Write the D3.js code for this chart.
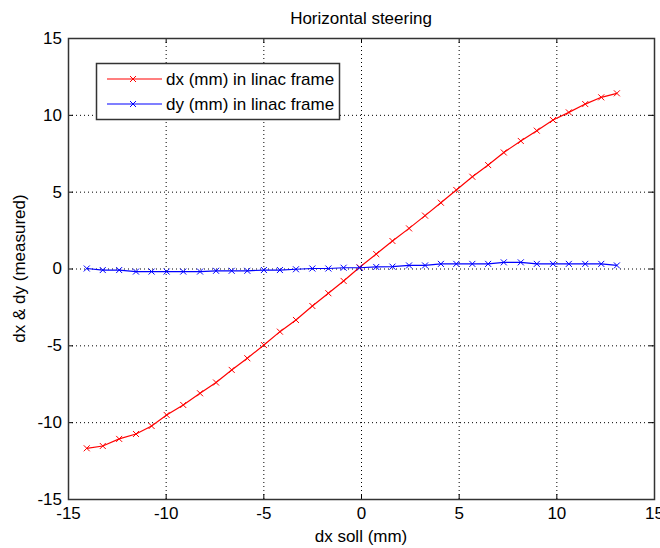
<!DOCTYPE html>
<meta charset="utf-8">
<style>
body { margin: 0; background: #fff; }
text { font-family: "Liberation Sans", Arial, sans-serif; fill: #000; }
.grid line { stroke: #000; stroke-width: 1; stroke-dasharray: 1,3; }
.line { fill: none; stroke-width: 1.2px; }
</style>
<body>
<script src="https://cdn.jsdelivr.net/npm/d3@7"></script>
<script>

// measurement positions (dx soll, mm)
var dxSoll = [-14.04, -13.22, -12.38, -11.52, -10.72, -9.95, -9.1, -8.24, -7.42, -6.62,
  -5.82, -4.97, -4.15, -3.33, -2.49, -1.67, -0.89, -0.07, 0.78, 1.61,
  2.46, 3.28, 4.09, 4.88, 5.7, 6.51, 7.31, 8.18, 9.0, 9.83,
  10.64, 11.48, 12.3, 13.1];

var dxMeas = [-11.70, -11.55, -11.09, -10.77, -10.25, -9.53, -8.88, -8.12, -7.42, -6.60,
  -5.84, -4.98, -4.11, -3.35, -2.44, -1.61, -0.81, 0.08, 0.94, 1.79,
  2.61, 3.44, 4.28, 5.11, 5.97, 6.73, 7.55, 8.30, 8.97, 9.66,
  10.16, 10.70, 11.14, 11.40];

var dyMeas = [0.0, -0.1, -0.1, -0.2, -0.2, -0.2, -0.2, -0.2, -0.15, -0.15,
  -0.15, -0.1, -0.1, -0.05, 0.0, 0.0, 0.05, 0.05, 0.1, 0.12,
  0.2, 0.2, 0.3, 0.3, 0.3, 0.3, 0.4, 0.4, 0.3, 0.3,
  0.3, 0.3, 0.3, 0.2];

var ticks = [-15, -10, -5, 0, 5, 10, 15];
var seriesNames = ["dx (mm) in linac frame", "dy (mm) in linac frame"];
var seriesColors = ["#ff0000", "#0000ff"];

var margin = {top: 38, right: 6, bottom: 49, left: 68},
    width = 660 - margin.left - margin.right,
    height = 548 - margin.top - margin.bottom;

var x = d3.scaleLinear().domain([-15, 15]).range([0, width]);
var y = d3.scaleLinear().domain([-15, 15]).range([height, 0]);

var svg = d3.select("body").append("svg")
    .attr("width", 660)
    .attr("height", 548);

var g = svg.append("g")
    .attr("transform", "translate(" + margin.left + "," + margin.top + ")");

// dotted grid
var grid = g.append("g").attr("class", "grid");
grid.selectAll(".gx").data(ticks.slice(1, -1)).enter().append("line")
    .attr("x1", function(d) { return x(d) + 0.5; })
    .attr("x2", function(d) { return x(d) + 0.5; })
    .attr("y1", 0).attr("y2", height);
grid.selectAll(".gy").data(ticks.slice(1, -1)).enter().append("line")
    .attr("y1", function(d) { return y(d) + 0.5; })
    .attr("y2", function(d) { return y(d) + 0.5; })
    .attr("x1", 0).attr("x2", width);

// axes, ticks pointing inward on all sides; plain hyphen for negatives
var fmt = function(d) { return String(d); };
function styleAxis(sel) {
  sel.select(".domain").remove();
  sel.selectAll("line").attr("stroke", "#000");
  sel.selectAll("text").style("font-size", "17px");
}
g.append("g").attr("transform", "translate(0," + height + ")")
    .call(d3.axisBottom(x).tickValues(ticks).tickFormat(fmt).tickSizeInner(-5).tickPadding(8))
    .call(styleAxis);
g.append("g")
    .call(d3.axisLeft(y).tickValues(ticks).tickFormat(fmt).tickSizeInner(-5).tickPadding(6))
    .call(styleAxis);
g.append("g")
    .call(d3.axisTop(x).tickValues(ticks).tickSizeInner(-5).tickFormat(""))
    .call(styleAxis);
g.append("g").attr("transform", "translate(" + width + ",0)")
    .call(d3.axisRight(y).tickValues(ticks).tickSizeInner(-5).tickFormat(""))
    .call(styleAxis);

g.append("rect")
    .attr("x", 0.5).attr("y", 0.5)
    .attr("width", width).attr("height", height)
    .attr("fill", "none").attr("stroke", "#333").attr("stroke-width", 1.5);

// series
var line = d3.line()
    .x(function(d) { return x(d[0]); })
    .y(function(d) { return y(d[1]); });

function crossPath(s) {
  return "M" + (-s) + "," + (-s) + "L" + s + "," + s + "M" + (-s) + "," + s + "L" + s + "," + (-s);
}

[dxMeas, dyMeas].forEach(function(vals, i) {
  var pts = dxSoll.map(function(d, j) { return [d, vals[j]]; });
  g.append("path").datum(pts)
      .attr("class", "line")
      .attr("stroke", seriesColors[i])
      .attr("d", line);
  g.selectAll(".m" + i).data(pts).enter().append("path")
      .attr("transform", function(d) { return "translate(" + x(d[0]) + "," + y(d[1]) + ")"; })
      .attr("d", crossPath(3))
      .attr("fill", "none")
      .attr("stroke", seriesColors[i])
      .attr("stroke-width", 1);
});

// legend
var lg = svg.append("g").attr("transform", "translate(96,63)");
lg.append("rect")
    .attr("x", 0.5).attr("y", 0.5).attr("width", 243).attr("height", 56)
    .attr("fill", "#fff").attr("stroke", "#333").attr("stroke-width", 1.5);
seriesNames.forEach(function(name, i) {
  var yy = 16 + i * 25;
  lg.append("line").attr("x1", 11).attr("x2", 66).attr("y1", yy).attr("y2", yy)
      .attr("stroke", seriesColors[i]).attr("stroke-width", 1.2);
  lg.append("path").attr("transform", "translate(37," + yy + ")")
      .attr("d", crossPath(3)).attr("fill", "none").attr("stroke", seriesColors[i]);
  lg.append("text").attr("x", 70).attr("y", yy + 6).style("font-size", "17px").text(name);
});

// title and axis labels
svg.append("text")
    .attr("x", margin.left + width / 2).attr("y", 24)
    .attr("text-anchor", "middle").style("font-size", "17px")
    .text("Horizontal steering");
svg.append("text")
    .attr("x", margin.left + width / 2).attr("y", 542)
    .attr("text-anchor", "middle").style("font-size", "17px")
    .text("dx soll (mm)");
svg.append("text")
    .attr("transform", "translate(25," + (margin.top + height / 2) + ") rotate(-90)")
    .attr("text-anchor", "middle").style("font-size", "17px")
    .text("dx & dy (measured)");

</script>
</body>
